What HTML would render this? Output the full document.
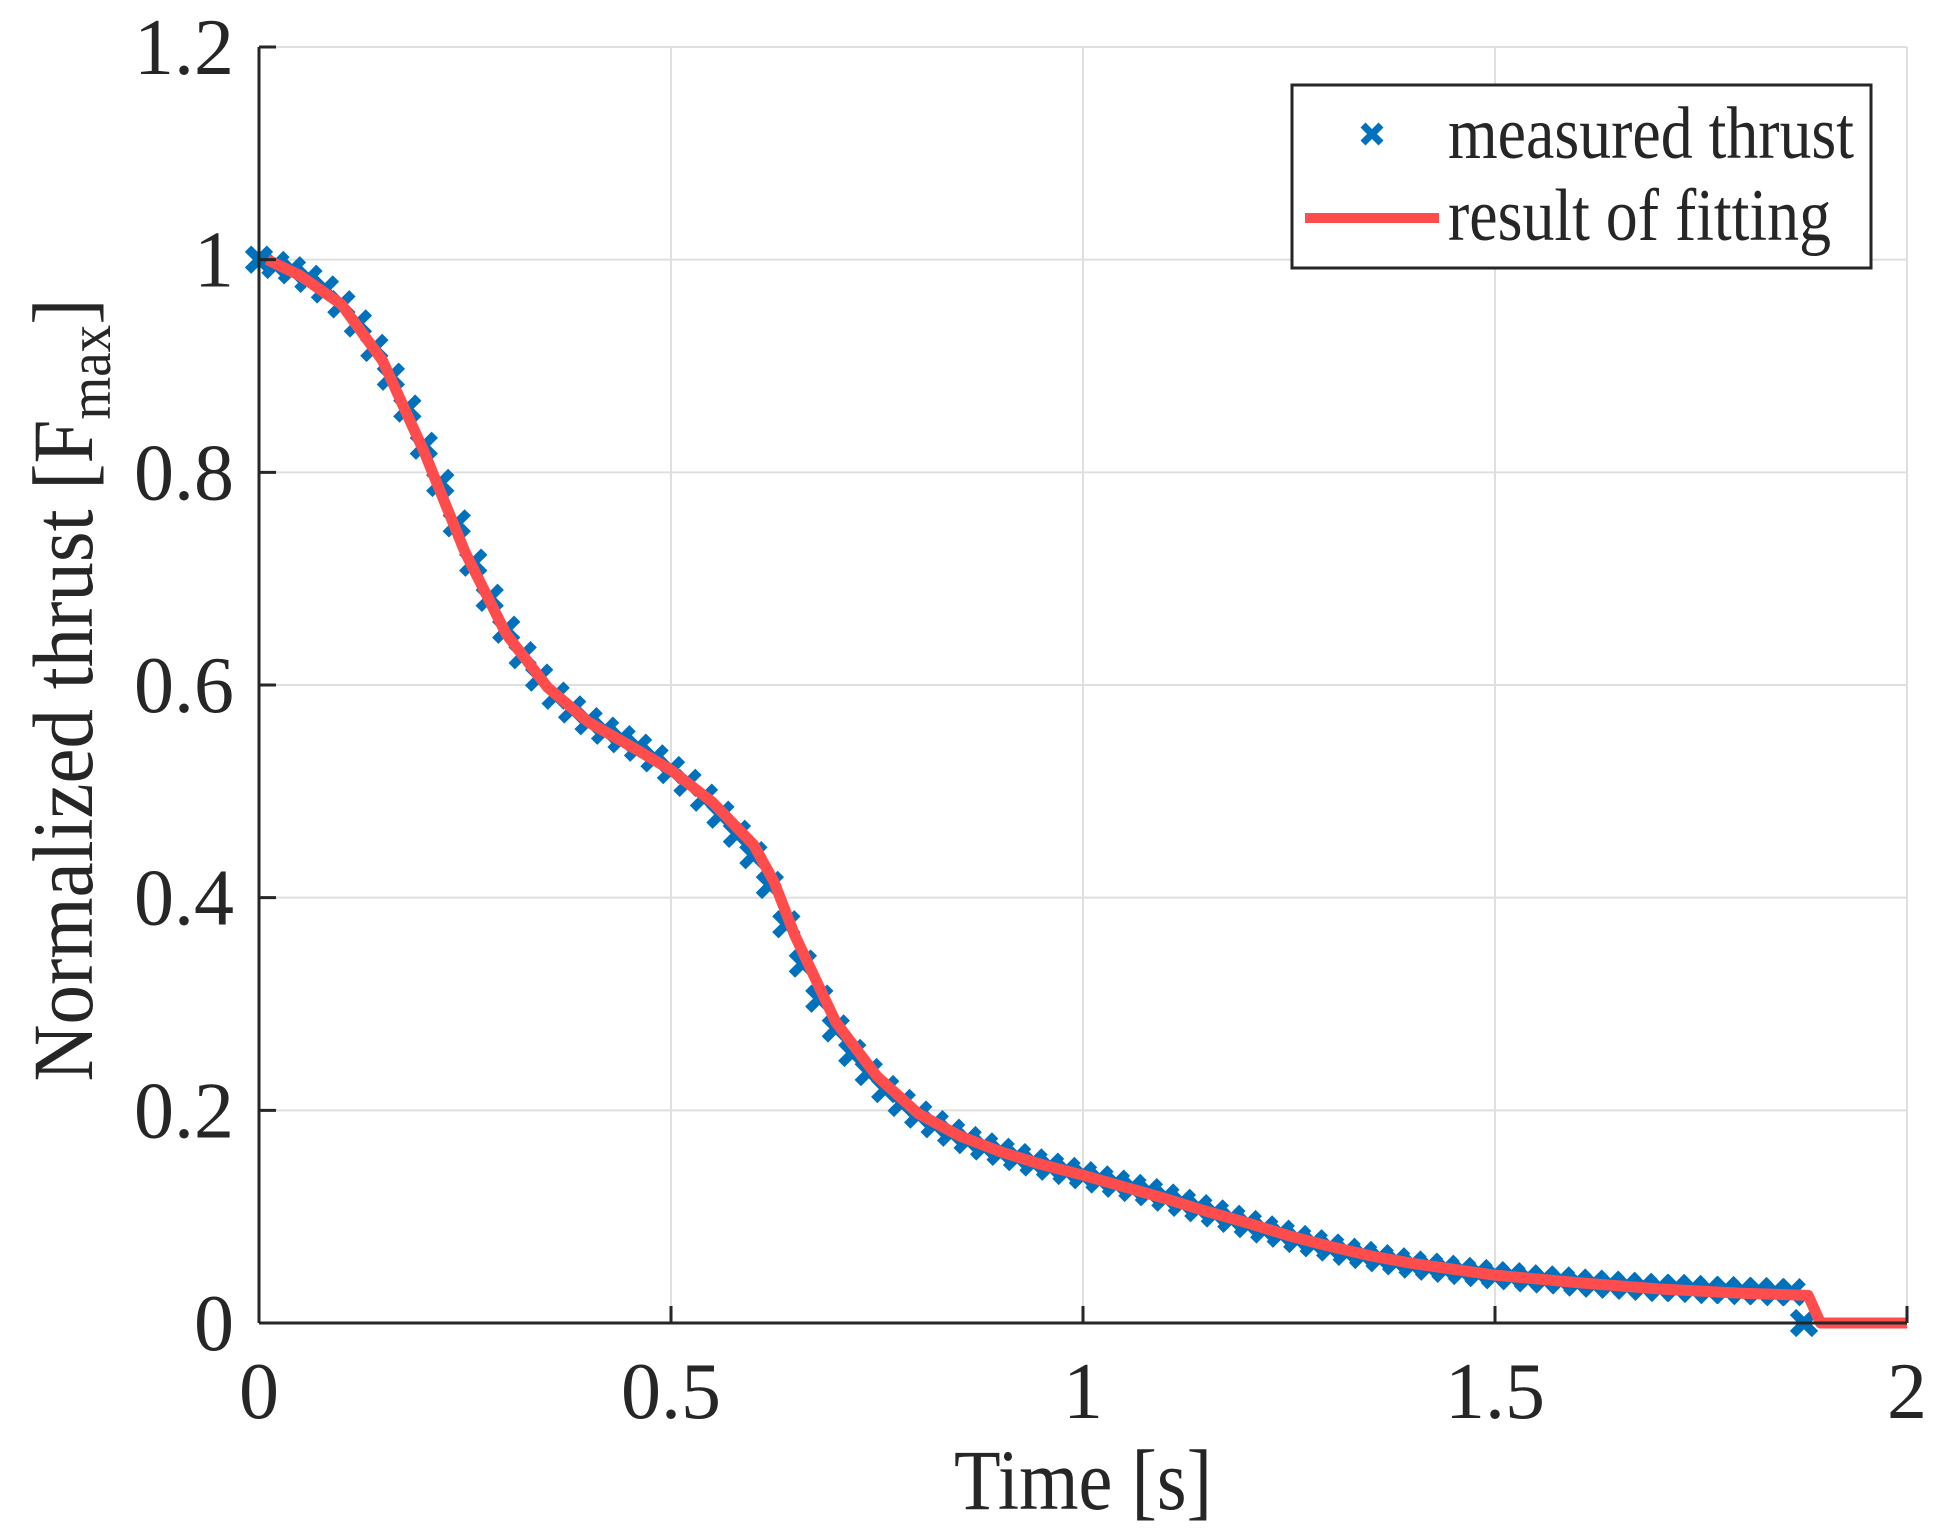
<!DOCTYPE html>
<html><head><meta charset="utf-8"><style>
html,body{margin:0;padding:0;background:#fff}
svg{display:block}
text{font-family:"Liberation Serif",serif;fill:#262626}
</style></head><body>
<svg id="chart" width="1945" height="1539" viewBox="0 0 1945 1539" xmlns="http://www.w3.org/2000/svg">
<g id="grid"></g>
<g id="marks"></g>
<g id="axes"></g>
<text x="1083" y="1509" font-size="86" text-anchor="middle" textLength="258" lengthAdjust="spacingAndGlyphs">Time [s]</text>
<g transform="translate(92,690) rotate(-90)">
<text x="0" y="0" font-size="86" text-anchor="middle" textLength="783" lengthAdjust="spacingAndGlyphs">Normalized thrust [F<tspan font-size="60" dy="18">max</tspan><tspan dy="-18">]</tspan></text>
</g>
<g>
<rect x="1292" y="85" width="579" height="183" fill="#fff" stroke="#262626" stroke-width="3"/>
<g stroke="#0072BD" stroke-width="7"><line x1="1363" y1="125" x2="1381" y2="143"/><line x1="1381" y1="125" x2="1363" y2="143"/></g>
<line x1="1305" y1="218" x2="1439" y2="218" stroke="#FF4D4D" stroke-width="10"/>
<text x="1448" y="158" font-size="74" textLength="406" lengthAdjust="spacingAndGlyphs" fill="#000">measured thrust</text>
<text x="1448" y="240" font-size="74" textLength="383" lengthAdjust="spacingAndGlyphs" fill="#000">result of fitting</text>
</g>
</svg>
<script>
const xTicks=[0,0.5,1,1.5,2];
const xTickLabels=["0","0.5","1","1.5","2"];
const yTicks=[0,0.2,0.4,0.6,0.8,1,1.2];
const yTickLabels=["0","0.2","0.4","0.6","0.8","1","1.2"];
const measuredT=[0,0.02,0.04,0.06,0.08,0.10,0.12,0.14,0.16,0.18,0.20,0.22,0.24,0.26,0.28,0.30,0.32,0.34,0.36,0.38,0.40,0.42,0.44,0.46,0.48,0.50,0.52,0.54,0.56,0.58,0.60,0.62,0.64,0.66,0.68,0.70,0.72,0.74,0.76,0.78,0.80,0.82,0.84,0.86,0.88,0.90,0.92,0.94,0.96,0.98,1.00,1.02,1.04,1.06,1.08,1.10,1.12,1.14,1.16,1.18,1.20,1.22,1.24,1.26,1.28,1.30,1.32,1.34,1.36,1.38,1.40,1.42,1.44,1.46,1.48,1.50,1.52,1.54,1.56,1.58,1.60,1.62,1.64,1.66,1.68,1.70,1.72,1.74,1.76,1.78,1.80,1.82,1.84,1.86,1.875];
const measuredF=[1.0,0.995,0.99,0.982,0.972,0.958,0.94,0.917,0.89,0.86,0.825,0.79,0.752,0.715,0.682,0.652,0.628,0.607,0.59,0.577,0.566,0.557,0.549,0.541,0.531,0.52,0.508,0.494,0.478,0.46,0.44,0.412,0.375,0.338,0.305,0.277,0.254,0.236,0.22,0.207,0.196,0.187,0.179,0.172,0.166,0.161,0.156,0.151,0.147,0.143,0.139,0.135,0.131,0.127,0.123,0.118,0.113,0.108,0.103,0.098,0.093,0.088,0.084,0.079,0.075,0.071,0.067,0.064,0.061,0.058,0.055,0.053,0.051,0.049,0.047,0.045,0.044,0.042,0.041,0.04,0.038,0.037,0.036,0.035,0.034,0.033,0.033,0.032,0.031,0.031,0.03,0.03,0.029,0.029,0];
const fitT=[0.01,0.05,0.1,0.15,0.2,0.25,0.3,0.35,0.4,0.45,0.5,0.55,0.6,0.625,0.65,0.7,0.75,0.8,0.85,0.9,0.95,1.0,1.05,1.1,1.15,1.2,1.25,1.3,1.35,1.4,1.5,1.6,1.7,1.8,1.88,1.895,2.0];
const fitF=[1.0,0.985,0.958,0.905,0.82,0.725,0.648,0.598,0.565,0.543,0.52,0.49,0.45,0.415,0.365,0.283,0.232,0.197,0.176,0.161,0.149,0.139,0.128,0.117,0.105,0.094,0.082,0.072,0.063,0.056,0.045,0.038,0.032,0.028,0.026,0,0];
const X0=259,X1=1907,Y0=1323,Y1=47;
function sx(v){return X0+(v-0)/(2-0)*(X1-X0);}
function sy(v){return Y0-(v-0)/(1.2-0)*(Y0-Y1);}
const NS="http://www.w3.org/2000/svg";
function mk(tag,attrs,parent){const e=document.createElementNS(NS,tag);for(const k in attrs)e.setAttribute(k,attrs[k]);parent.appendChild(e);return e;}
const grid=document.getElementById('grid'),axes=document.getElementById('axes'),marks=document.getElementById('marks');
xTicks.forEach((t,i)=>{
  const g=mk('line',{x1:sx(t),x2:sx(t),y1:Y1,y2:Y0,stroke:'#dfdfdf','stroke-width':2},grid);
  
  
  const tk=mk('line',{x1:sx(t),x2:sx(t),y1:Y0,y2:Y0-17,stroke:'#262626','stroke-width':3},axes);
  
  
  const lb=mk('text',{x:sx(t),y:1418,'font-size':80,'text-anchor':'middle'},axes);
  lb.textContent=xTickLabels[i];
  
  
});
yTicks.forEach((t,i)=>{
  const g=mk('line',{x1:X0,x2:X1,y1:sy(t),y2:sy(t),stroke:'#dfdfdf','stroke-width':2},grid);
  
  
  const tk=mk('line',{x1:X0,x2:X0+17,y1:sy(t),y2:sy(t),stroke:'#262626','stroke-width':3},axes);
  
  
  const lb=mk('text',{x:234,y:sy(t)+27,'font-size':80,'text-anchor':'end'},axes);
  lb.textContent=yTickLabels[i];
  
  
});
const xa=mk('line',{x1:X0,x2:X1,y1:Y0,y2:Y0,stroke:'#262626','stroke-width':3},axes);


const ya=mk('line',{x1:X0,x2:X0,y1:Y1,y2:Y0,stroke:'#262626','stroke-width':3},axes);


const s=11;
measuredT.forEach((t,i)=>{
  const cx=sx(t),cy=sy(measuredF[i]);
  const p=mk('path',{d:`M${cx-s},${cy-s}L${cx+s},${cy+s}M${cx+s},${cy-s}L${cx-s},${cy+s}`,stroke:'#0072BD','stroke-width':9,fill:'none'},marks);
  
  
});
const fit=mk('polyline',{points:fitT.map((t,i)=>sx(t)+','+sy(fitF[i])).join(' '),stroke:'#FF4D4D','stroke-width':11,fill:'none','stroke-linejoin':'round'},marks);


</script>
</body></html>
